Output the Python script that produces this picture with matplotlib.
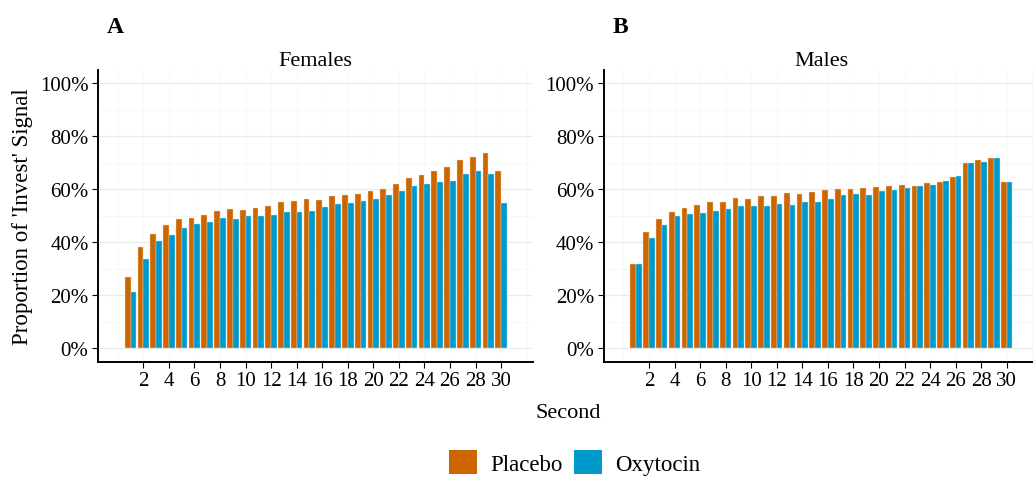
import matplotlib
matplotlib.use("Agg")
import matplotlib.pyplot as plt
from matplotlib.patches import Patch
from matplotlib.ticker import FuncFormatter, MultipleLocator
import numpy as np

# proportion of 'Invest' signal per second
seconds = list(range(1, 31))

females_placebo = [26.8, 38.1, 43.1, 46.4, 48.8, 49.1, 50.3, 51.8, 52.5, 52.2,
                   52.8, 53.7, 55.2, 55.6, 56.4, 56.1, 57.4, 58.0, 58.2, 59.4,
                   60.1, 62.1, 64.3, 65.4, 66.8, 68.4, 70.9, 72.2, 73.8, 66.8]
females_oxytocin = [21.4, 33.7, 40.5, 42.8, 45.4, 46.9, 47.8, 49.3, 48.7, 49.9,
                    50.1, 50.4, 51.3, 51.3, 51.8, 53.5, 54.5, 54.8, 55.7, 56.5,
                    58.0, 59.5, 61.3, 61.9, 62.6, 63.3, 65.7, 66.8, 65.7, 54.8]

males_placebo = [31.8, 43.9, 48.7, 51.4, 52.8, 54.2, 55.1, 55.2, 56.7, 56.4,
                 57.6, 57.5, 58.7, 58.1, 59.0, 59.6, 60.1, 60.0, 60.5, 60.9,
                 61.1, 61.8, 61.4, 62.4, 62.6, 64.5, 69.8, 71.1, 71.7, 62.6]
males_oxytocin = [31.8, 41.5, 46.4, 49.8, 50.6, 51.2, 51.7, 52.6, 53.7, 53.7,
                  53.8, 54.6, 54.1, 55.3, 55.3, 56.5, 57.9, 58.1, 57.9, 59.2,
                  59.9, 60.4, 61.1, 61.8, 63.1, 64.9, 69.8, 70.4, 71.7, 62.6]

groups = ["Placebo", "Oxytocin"]
colors = {"Placebo": "#CC6600", "Oxytocin": "#0099CC"}

plt.rcParams["font.family"] = ["Liberation Serif", "DejaVu Serif"]

fig = plt.figure(figsize=(10.33, 4.85), dpi=100)
axA = fig.add_axes([0.0952, 0.2522, 0.4208, 0.6014])
axB = fig.add_axes([0.5847, 0.2522, 0.4208, 0.6014])

panels = [
    (axA, "Females", "A", females_placebo, females_oxytocin),
    (axB, "Males", "B", males_placebo, males_oxytocin),
]

x = np.array(seconds)
w = 0.45
for ax, title, letter, plac, oxy in panels:
    ax.bar(x - w / 2, np.array(plac) / 100, width=w, color=colors["Placebo"],
           edgecolor="#f3d9c0", linewidth=0.3, zorder=3)
    ax.bar(x + w / 2, np.array(oxy) / 100, width=w, color=colors["Oxytocin"],
           edgecolor="#bfe5f2", linewidth=0.3, zorder=3)
    ax.set_xlim(-1.52, 32.5)
    ax.set_ylim(-0.05, 1.05)
    ax.set_xticks(range(2, 31, 2))
    ax.set_yticks(np.arange(0, 1.01, 0.2))
    ax.yaxis.set_minor_locator(MultipleLocator(0.1))
    ax.yaxis.set_major_formatter(FuncFormatter(lambda v, p: f"{v*100:.0f}%"))
    ax.grid(axis="y", which="major", color="#ebebeb", linewidth=0.9, zorder=0)
    ax.grid(axis="y", which="minor", color="#f5f5f5", linewidth=0.6, zorder=0)
    for gx in range(0, 33, 2):
        ax.axvline(gx, color="#f9f9f9", linewidth=0.6, zorder=0)
    for s in ["top", "right"]:
        ax.spines[s].set_visible(False)
    for s in ["left", "bottom"]:
        ax.spines[s].set_linewidth(1.4)
        ax.spines[s].set_color("black")
    ax.tick_params(axis="both", which="major", length=4, width=0.8,
                   labelsize=15, colors="black", pad=3)
    ax.tick_params(axis="y", which="minor", length=0)
    ax.set_title(title, fontsize=16, pad=-1)
    ax.text(0.02, 1.1475, letter, transform=ax.transAxes, fontsize=17,
            fontweight="bold", ha="left", va="center")

axA.set_ylabel("Proportion of 'Invest' Signal", fontsize=16.5, labelpad=5)

fig.text(0.55, 0.147, "Second", ha="center", va="center", fontsize=16)

handles = [Patch(facecolor=colors[g], edgecolor="none", label=g) for g in groups]
fig.legend(handles=handles, loc="center", bbox_to_anchor=(0.556, 0.045), ncol=2,
           frameon=False, fontsize=16.5, handlelength=1.25, handleheight=1.25,
           columnspacing=0.5, handletextpad=0.55)

fig.savefig("out.png", dpi=100)
